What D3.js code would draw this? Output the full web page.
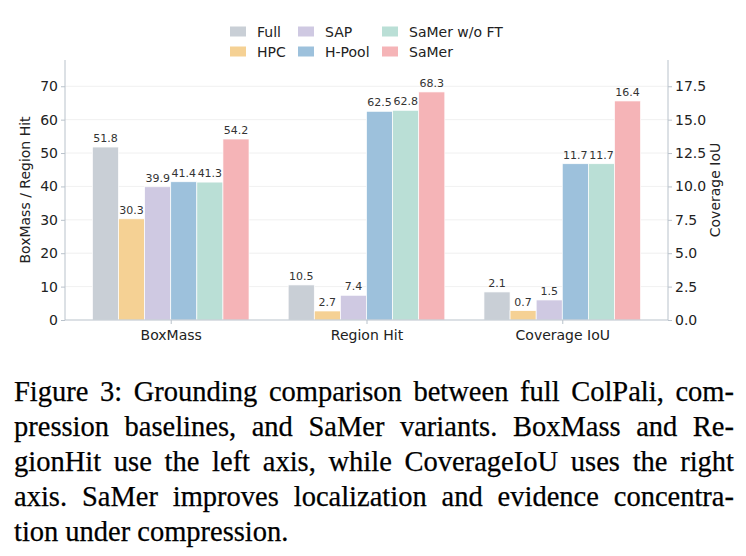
<!DOCTYPE html>
<html>
  <head>
    <meta charset="utf-8" />
    <title>Grounding comparison</title>
    <script src="https://d3js.org/d3.v7.min.js"></script>
    <style>
      body { margin: 0; background: white; }
      svg { display: block; }
      .cap { font-family: "Liberation Serif", "Times New Roman", Times, serif; }
    </style>
  </head>
  <body>
    <svg id="viz"></svg>
    <script>

    // chart data
    var metrics = ["BoxMass", "Region Hit", "Coverage IoU"];
    var methods = ["Full", "HPC", "SAP", "H-Pool", "SaMer w/o FT", "SaMer"];
    var colors = ["#c9cfd6", "#f5d194", "#cfc9e2", "#9dc1dc", "#badfd6", "#f5b4b7"];
    var boxMass = [51.8, 30.3, 39.9, 41.4, 41.3, 54.2];
    var regionHit = [10.5, 2.7, 7.4, 62.5, 62.8, 68.3];
    var coverageIoU = [2.1, 0.7, 1.5, 11.7, 11.7, 16.4];
    var leftTicks = [0, 10, 20, 30, 40, 50, 60, 70];
    var rightTicks = [0, 2.5, 5, 7.5, 10, 12.5, 15, 17.5];

    var caption = [
      "Figure 3: Grounding comparison between full ColPali, com-",
      "pression baselines, and SaMer variants. BoxMass and Re-",
      "gionHit use the left axis, while CoverageIoU uses the right",
      "axis. SaMer improves localization and evidence concentra-",
      "tion under compression."
    ];

    var width = 746, height = 556;
    var svg = d3.select("#viz").attr("width", width).attr("height", height);

    var plotLeft = 65, plotRight = 668, plotTop = 60, plotBottom = 320;
    var font = "DejaVu Sans";

    // x in "group units", like matplotlib with margins
    var x = d3.scaleLinear().domain([-0.54, 2.54]).range([plotLeft, plotRight]);
    var barW = 0.8 / methods.length;

    var yLeft = d3.scaleLinear().domain([0, 68.3 * 1.14]).range([plotBottom, plotTop]);
    var yRight = d3.scaleLinear().domain([0, 68.3 * 1.14 / 4]).range([plotBottom, plotTop]);

    var series = [boxMass, regionHit, coverageIoU];

    // grid
    svg.append("g").selectAll("line")
      .data(leftTicks.slice(1))
      .enter().append("line")
      .attr("x1", plotLeft).attr("x2", plotRight)
      .attr("y1", function(d) { return yLeft(d) })
      .attr("y2", function(d) { return yLeft(d) })
      .attr("stroke", "#ececec")
      .attr("stroke-width", 0.8);

    // bars
    var bars = [];
    series.forEach(function(vals, gi) {
      vals.forEach(function(v, mi) {
        bars.push({ g: gi, m: mi, v: v, right: gi == 2 });
      });
    });

    function barX(d) { return x(d.g - 0.4 + d.m * barW) }
    function barY(d) { return d.right ? yRight(d.v) : yLeft(d.v) }

    svg.append("g").selectAll("rect")
      .data(bars)
      .enter().append("rect")
      .attr("x", barX)
      .attr("width", x(barW) - x(0))
      .attr("y", barY)
      .attr("height", function(d) { return plotBottom - barY(d) })
      .attr("fill", function(d) { return colors[d.m] })
      .attr("stroke", "white")
      .attr("stroke-width", 0.7);

    svg.append("g").selectAll("text")
      .data(bars)
      .enter().append("text")
      .attr("x", function(d) { return barX(d) + (x(barW) - x(0)) / 2 })
      .attr("y", function(d) { return barY(d) - 5 })
      .attr("text-anchor", "middle")
      .attr("font-family", font)
      .attr("font-size", 11)
      .attr("fill", "#333")
      .text(function(d) { return d.v.toFixed(1) });

    // axes
    var spine = "#b9c2cb";
    var axL = svg.append("g")
      .attr("transform", "translate(" + plotLeft + ",0)")
      .call(d3.axisLeft(yLeft).tickValues(leftTicks).tickSize(4).tickPadding(3).tickFormat(d3.format("d")));
    var axR = svg.append("g")
      .attr("transform", "translate(" + plotRight + ",0)")
      .call(d3.axisRight(yRight).tickValues(rightTicks).tickSize(4).tickPadding(3).tickFormat(d3.format(".1f")));
    var axB = svg.append("g")
      .attr("transform", "translate(0," + plotBottom + ")")
      .call(d3.axisBottom(x).tickValues([0, 1, 2]).tickSize(4).tickPadding(3).tickFormat(function(d) { return metrics[d] }));

    [axL, axR, axB].forEach(function(ax) {
      ax.select(".domain").remove();
      ax.selectAll(".tick line").attr("stroke", spine);
      ax.selectAll(".tick text").attr("font-family", font).attr("font-size", 14).attr("fill", "#222");
    });
    axB.selectAll(".tick text").attr("dy", "0.9em");

    svg.append("line").attr("x1", plotLeft).attr("x2", plotLeft).attr("y1", plotTop).attr("y2", plotBottom).attr("stroke", spine);
    svg.append("line").attr("x1", plotRight).attr("x2", plotRight).attr("y1", plotTop).attr("y2", plotBottom).attr("stroke", spine);
    svg.append("line").attr("x1", plotLeft).attr("x2", plotRight).attr("y1", plotBottom).attr("y2", plotBottom).attr("stroke", spine);

    // axis labels
    svg.append("text")
      .attr("transform", "translate(30," + (plotTop + plotBottom) / 2 + ") rotate(-90)")
      .attr("text-anchor", "middle")
      .attr("font-family", font).attr("font-size", 14).attr("fill", "#222")
      .text("BoxMass / Region Hit");
    svg.append("text")
      .attr("transform", "translate(720," + (plotTop + plotBottom) / 2 + ") rotate(-90)")
      .attr("text-anchor", "middle")
      .attr("font-family", font).attr("font-size", 14).attr("fill", "#222")
      .text("Coverage IoU");

    // legend, 3 columns x 2 rows (column-major)
    var colX = [230, 298, 382];
    var rowY = [31.5, 51.5];
    var legend = svg.append("g").selectAll("g")
      .data(methods)
      .enter().append("g")
      .attr("transform", function(d, i) {
        return "translate(" + colX[Math.floor(i / 2)] + "," + rowY[i % 2] + ")";
      });
    legend.append("rect")
      .attr("x", 0).attr("y", -5).attr("width", 16).attr("height", 10)
      .attr("fill", function(d, i) { return colors[i] });
    legend.append("text")
      .attr("x", 27).attr("dy", "0.36em")
      .attr("font-family", font).attr("font-size", 14).attr("fill", "#222")
      .text(function(d) { return d });

    // caption, justified
    var capLeft = 14, capRight = 734, capTop = 401, lineH = 35;
    caption.forEach(function(line, li) {
      var words = line.split(" ");
      var g = svg.append("g");
      var nodes = words.map(function(w) {
        return g.append("text")
          .attr("class", "cap")
          .attr("y", capTop + li * lineH)
          .attr("font-size", 28.5)
          .attr("fill", "#000")
          .attr("stroke", "#000")
          .attr("stroke-width", 0.25)
          .text(w);
      });
      var widths = nodes.map(function(n) { return n.node().getComputedTextLength() });
      var total = d3.sum(widths);
      var gap = li < caption.length - 1 ? (capRight - capLeft - total) / (words.length - 1) : 7;
      var cx = capLeft;
      nodes.forEach(function(n, i) {
        n.attr("x", cx);
        cx += widths[i] + gap;
      });
    });

    </script>
  </body>
</html>
